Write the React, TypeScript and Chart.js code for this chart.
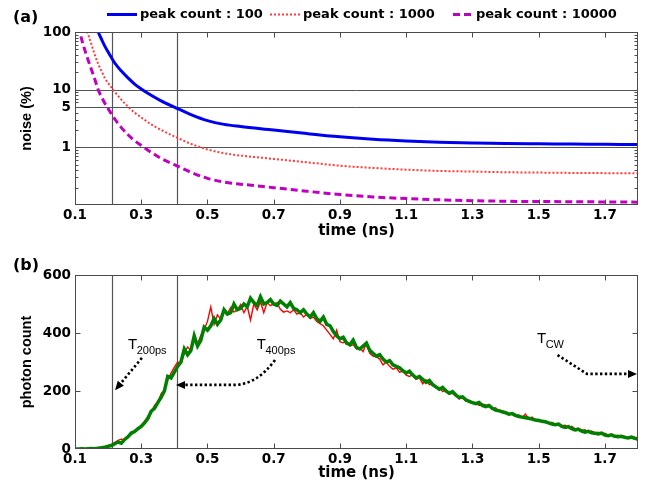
import React, { useEffect, useRef } from 'react';
import { Chart, registerables } from 'chart.js';

Chart.register(...registerables);

// ---------------- Panel (a) data ----------------
const timeA = [0.11, 0.12, 0.13, 0.14, 0.15, 0.16, 0.17, 0.18, 0.19, 0.2, 0.21, 0.22, 0.24, 0.26, 0.28, 0.3, 0.33, 0.36, 0.4, 0.45, 0.5, 0.55, 0.6, 0.7, 0.8, 0.9, 1.0, 1.1, 1.2, 1.3, 1.4, 1.5, 1.6, 1.7, 1.8];
const noise100 = [null, null, null, null, null, 140, 100, 75, 57, 45, 36, 29, 21, 16, 12.5, 10.3, 8, 6.4, 5, 3.7, 2.9, 2.5, 2.3, 2.0, 1.73, 1.52, 1.38, 1.29, 1.23, 1.19, 1.16, 1.15, 1.14, 1.13, 1.12];
const noise1000 = [null, 220, 130, 90, 60, 40, 28, 21, 16, 13, 11, 9.2, 6.7, 5.1, 4.0, 3.3, 2.5, 2.0, 1.55, 1.15, 0.92, 0.79, 0.72, 0.63, 0.55, 0.48, 0.44, 0.41, 0.39, 0.38, 0.37, 0.365, 0.36, 0.357, 0.355];
const noise10000 = [130, 75, 48, 32, 22, 15, 10, 7.5, 5.8, 4.7, 3.8, 3.1, 2.2, 1.65, 1.3, 1.08, 0.82, 0.64, 0.5, 0.37, 0.29, 0.25, 0.23, 0.2, 0.173, 0.152, 0.138, 0.129, 0.123, 0.119, 0.116, 0.115, 0.114, 0.113, 0.112];
const seriesLabelsA = ['peak count : 100', 'peak count : 1000', 'peak count : 10000'];

const timeTicks = [0.1, 0.3, 0.5, 0.7, 0.9, 1.1, 1.3, 1.5, 1.7];
const noiseTicks = [1, 5, 10, 100];
const noiseRefLines = [1, 5, 10];
const noiseMinorTicks = [0.2, 0.3, 0.4, 0.5, 0.6, 0.7, 0.8, 0.9, 2, 3, 4, 6, 7, 8, 9, 20, 30, 40, 50, 60, 70, 80, 90];
const noiseMajorTicks = [1, 10];
const markerTimes = [0.212, 0.407];

// ---------------- Panel (b) data ----------------
const timeStartB = 0.1;
const timeStepB = 0.01;
const countGreen = [
  0, 0, 1, 0, 1, 2, 1, 3, 4, 6,
  9, 12, 18, 24, 20, 33, 42, 55, 60, 70,
  78, 90, 105, 130, 140, 160, 178, 200, 250, 245,
  265, 285, 300, 345, 325, 340, 390, 355, 375, 420,
  410, 425, 450, 430, 445, 480, 465, 470, 500, 480,
  485, 500, 490, 520, 505, 495, 525, 500, 505, 515,
  500, 495, 510, 500, 490, 505, 485, 480, 470, 480,
  465, 455, 470, 450, 440, 455, 430, 425, 405, 390,
  380, 385, 365, 360, 375, 350, 345, 355, 365, 340,
  330, 320, 325, 310, 300, 305, 290, 285, 280, 270,
  262, 268, 255, 245, 250, 240, 230, 236, 222, 214,
  206, 212, 200, 192, 198, 186, 178, 180, 170, 164,
  160, 156, 160, 150, 146, 150, 140, 134, 132, 128,
  125, 120, 122, 116, 112, 110, 108, 106, 103, 100,
  98, 96, 94, 90, 86, 84, 86, 78, 74, 77,
  70, 66, 68, 62, 58, 61, 56, 54, 52, 55,
  48, 46, 49, 44, 42, 44, 40, 38, 41, 37,
  35,
];
const countRed = [
  0, 1, 0, 1, 0, 2, 2, 4, 6, 8,
  12, 16, 22, 30, 34, 32, 42, 50, 62, 68,
  82, 95, 112, 125, 150, 160, 190, 205, 240, 262,
  282, 300, 296, 330, 352, 338, 375, 362, 392, 412,
  440, 490, 430, 462, 448, 478, 466, 488, 472, 480,
  498, 470, 492, 445, 500, 480, 508, 470, 505, 494,
  500, 505, 482, 472, 476, 470, 480, 465, 470, 455,
  465, 450, 455, 440, 432, 425, 410, 395, 380, 410,
  370, 366, 372, 355, 360, 345, 350, 336, 366, 330,
  320, 318, 310, 290, 300, 285, 275, 280, 265, 268,
  255, 250, 258, 240, 245, 225, 238, 222, 225, 210,
  212, 198, 205, 190, 192, 185, 172, 178, 165, 168,
  160, 158, 150, 155, 152, 148, 138, 142, 130, 132,
  128, 120, 122, 112, 118, 108, 120, 105, 110, 100,
  102, 94, 96, 88, 92, 85, 88, 80, 82, 74,
  78, 70, 72, 64, 66, 58, 62, 55, 58, 50,
  54, 46, 50, 44, 47, 40, 44, 38, 40, 34,
  30,
];
const countTicks = [0, 200, 400, 600];
const countInnerTicks = [200, 400];

// annotation texts with anchor points in data coordinates (time, count)
const annotationsB = [
  { main: 'T', sub: '200ps', at: [0.26, 359], path: [[0.302, 314], [0.221, 203]], curved: false },
  { main: 'T', sub: '400ps', at: [0.649, 359], path: [[0.704, 307], [0.58, 221], [0.405, 221]], curved: true },
  { main: 'T', sub: 'CW', at: [1.495, 379], path: [[1.557, 324], [1.646, 259], [1.797, 259]], curved: false },
];

// ---------------- styling ----------------
const TICK_FONT = { family: 'DejaVu Sans', size: 13.5, weight: 'bold' as const };
const XTITLE_FONT = { family: 'DejaVu Sans', size: 15, weight: 'bold' as const };
const YTITLE_FONT = { family: 'Liberation Sans', size: 14.5, weight: 'bold' as const };
const FRAME_COLOR = '#4a4a4a';
const legendLayout = [
  { x0: 107, x1: 137, tx: 140 },
  { x0: 270, x1: 300, tx: 303 },
  { x0: 453, x1: 473, tx: 476 },
];

const toPoints = (xs: number[], ys: (number | null)[]) => xs.map((x, i) => ({ x, y: ys[i] }));
const seriesB = (ys: number[]) => ys.map((y, i) => ({ x: Math.round((timeStartB + i * timeStepB) * 100) / 100, y }));

const framePlugin = {
  id: 'frame',
  beforeDatasetsDraw(chart: any, _args: any, opts: any) {
    const { ctx, chartArea: a, scales } = chart;
    const x = scales.x;
    const y = scales.y;
    ctx.save();
    ctx.strokeStyle = '#555';
    ctx.lineWidth = 1;
    for (const v of opts.hLines || []) {
      const py = Math.round(y.getPixelForValue(v)) + 0.5;
      ctx.beginPath();
      ctx.moveTo(a.left, py);
      ctx.lineTo(a.right, py);
      ctx.stroke();
    }
    ctx.lineWidth = 1.2;
    for (const v of opts.vLines || []) {
      const px = Math.round(x.getPixelForValue(v)) + 0.5;
      ctx.beginPath();
      ctx.moveTo(px, a.top);
      ctx.lineTo(px, a.bottom);
      ctx.stroke();
    }
    ctx.restore();
  },
  afterDatasetsDraw(chart: any, _args: any, opts: any) {
    const { ctx, chartArea: a, scales } = chart;
    const x = scales.x;
    const y = scales.y;
    const L = Math.round(a.left) + 0.5;
    const R = Math.round(a.right) - 0.5;
    const T = Math.round(a.top) + 0.5;
    const B = Math.round(a.bottom) - 0.5;
    ctx.save();
    ctx.strokeStyle = FRAME_COLOR;
    ctx.lineWidth = 1;
    ctx.strokeRect(L, T, R - L, B - T);
    ctx.beginPath();
    for (const v of opts.xTicks || []) {
      const px = Math.round(x.getPixelForValue(v)) + 0.5;
      ctx.moveTo(px, B); ctx.lineTo(px, B - 5);
      ctx.moveTo(px, T); ctx.lineTo(px, T + 5);
    }
    for (const v of opts.yMajor || []) {
      const py = Math.round(y.getPixelForValue(v)) + 0.5;
      ctx.moveTo(L, py); ctx.lineTo(L + 5, py);
      ctx.moveTo(R, py); ctx.lineTo(R - 5, py);
    }
    for (const v of opts.yMinor || []) {
      const py = Math.round(y.getPixelForValue(v)) + 0.5;
      ctx.moveTo(L, py); ctx.lineTo(L + 3, py);
      ctx.moveTo(R, py); ctx.lineTo(R - 3, py);
    }
    ctx.stroke();
    ctx.restore();
  },
};

const panelLabelPlugin = {
  id: 'panelLabel',
  afterDraw(chart: any, _args: any, opts: any) {
    const { ctx } = chart;
    ctx.save();
    ctx.font = 'bold 16px "DejaVu Sans"';
    ctx.fillStyle = '#000';
    ctx.textBaseline = 'middle';
    ctx.textAlign = 'left';
    ctx.fillText(opts.text, opts.x, opts.y);
    ctx.restore();
  },
};

const lineLegendPlugin = {
  id: 'lineLegend',
  afterDraw(chart: any, _args: any, opts: any) {
    if (!opts.layout) return;
    const { ctx } = chart;
    ctx.save();
    chart.data.datasets.forEach((ds: any, i: number) => {
      const l = opts.layout[i];
      ctx.strokeStyle = ds.borderColor;
      ctx.lineWidth = ds.borderWidth;
      ctx.setLineDash(ds.borderDash || []);
      ctx.beginPath();
      ctx.moveTo(l.x0, opts.y);
      ctx.lineTo(l.x1, opts.y);
      ctx.stroke();
      ctx.setLineDash([]);
      ctx.font = 'bold 13px "DejaVu Sans"';
      ctx.fillStyle = '#000';
      ctx.textBaseline = 'middle';
      ctx.fillText(ds.label, l.tx, opts.y);
    });
    ctx.restore();
  },
};

const arrowNotesPlugin = {
  id: 'arrowNotes',
  afterDatasetsDraw(chart: any, _args: any, opts: any) {
    if (!opts.items) return;
    const { ctx, scales } = chart;
    const x = scales.x;
    const y = scales.y;
    ctx.save();
    for (const it of opts.items) {
      const tx = x.getPixelForValue(it.at[0]);
      const ty = y.getPixelForValue(it.at[1]);
      ctx.fillStyle = '#000';
      ctx.textBaseline = 'middle';
      ctx.textAlign = 'left';
      ctx.font = '15px "Liberation Sans"';
      ctx.fillText(it.main, tx, ty);
      const w = ctx.measureText(it.main).width;
      ctx.font = '11px "Liberation Sans"';
      ctx.fillText(it.sub, tx + w - 0.5, ty + 6);

      const pts = it.path.map((p: number[]) => [x.getPixelForValue(p[0]), y.getPixelForValue(p[1])]);
      const n = pts.length;
      const tip = pts[n - 1];
      const prev = pts[n - 2];
      const dx = tip[0] - prev[0];
      const dy = tip[1] - prev[1];
      const len = Math.hypot(dx, dy);
      const ux = dx / len;
      const uy = dy / len;
      const head = 9;
      const base = [tip[0] - ux * head, tip[1] - uy * head];
      ctx.strokeStyle = '#000';
      ctx.lineWidth = 2.6;
      ctx.setLineDash([2.4, 2.4]);
      ctx.beginPath();
      ctx.moveTo(pts[0][0], pts[0][1]);
      if (it.curved && n === 3) {
        // bend from the start point into the horizontal run
        const c = pts[1];
        const cx = c[0] + (pts[0][0] - c[0]) * 0.55;
        ctx.quadraticCurveTo(cx, c[1], c[0], c[1]);
      } else {
        for (let i = 1; i < n - 1; i++) ctx.lineTo(pts[i][0], pts[i][1]);
      }
      ctx.lineTo(base[0], base[1]);
      ctx.stroke();
      ctx.setLineDash([]);
      ctx.beginPath();
      ctx.moveTo(tip[0], tip[1]);
      ctx.lineTo(base[0] - uy * 4, base[1] + ux * 4);
      ctx.lineTo(base[0] + uy * 4, base[1] - ux * 4);
      ctx.closePath();
      ctx.fill();
    }
    ctx.restore();
  },
};

function baseXScale(heightPx: number) {
  return {
    type: 'linear' as const,
    min: 0.1,
    max: 1.8,
    afterBuildTicks: (s: any) => { s.ticks = timeTicks.map((v) => ({ value: v })); },
    afterFit: (s: any) => { s.height = heightPx; },
    grid: { display: false, drawTicks: false },
    border: { display: false },
    ticks: { padding: 2, font: TICK_FONT, color: '#000', autoSkip: false, maxRotation: 0, callback: (v: any) => Number(v).toFixed(1) },
    title: { display: true, text: 'time (ns)', font: XTITLE_FONT, color: '#000', padding: 0 },
  };
}

function PanelA() {
  const ref = useRef<HTMLCanvasElement>(null);
  useEffect(() => {
    const chart = new Chart(ref.current as HTMLCanvasElement, {
      type: 'line',
      data: {
        datasets: [
          { label: seriesLabelsA[0], data: toPoints(timeA, noise100) as any, borderColor: '#0000f0', borderWidth: 3, pointRadius: 0, cubicInterpolationMode: 'monotone', fill: false },
          { label: seriesLabelsA[1], data: toPoints(timeA, noise1000) as any, borderColor: '#ff3a3a', borderWidth: 2, borderDash: [2, 2], pointRadius: 0, cubicInterpolationMode: 'monotone', fill: false },
          { label: seriesLabelsA[2], data: toPoints(timeA, noise10000) as any, borderColor: '#c000c0', borderWidth: 3, borderDash: [7, 4], pointRadius: 0, cubicInterpolationMode: 'monotone', fill: false },
        ],
      },
      options: {
        responsive: false,
        animation: false,
        layout: { padding: { left: 0, right: 17, top: 32, bottom: 0 } },
        plugins: {
          legend: { display: false },
          tooltip: { enabled: false },
          frame: { hLines: noiseRefLines, vLines: markerTimes, xTicks: timeTicks, yMajor: noiseMajorTicks, yMinor: noiseMinorTicks },
          panelLabel: { text: '(a)', x: 13, y: 18 },
          lineLegend: { layout: legendLayout, y: 14.5 },
        } as any,
        scales: {
          x: baseXScale(35) as any,
          y: {
            type: 'logarithmic',
            min: 0.1,
            max: 100,
            afterBuildTicks: (s: any) => { s.ticks = noiseTicks.map((v) => ({ value: v })); },
            afterFit: (s: any) => { s.width = 75; },
            grid: { display: false, drawTicks: false },
            border: { display: false },
            ticks: { padding: 4, font: TICK_FONT, color: '#000', autoSkip: false, callback: (v: any) => String(v) },
            title: { display: true, text: 'noise (%)', font: YTITLE_FONT, color: '#000', padding: { top: 18, bottom: 0 } },
          } as any,
        },
      },
      plugins: [framePlugin, panelLabelPlugin, lineLegendPlugin],
    });
    return () => chart.destroy();
  }, []);
  return <canvas ref={ref} width={655} height={240} style={{ display: 'block' }} />;
}

function PanelB() {
  const ref = useRef<HTMLCanvasElement>(null);
  useEffect(() => {
    const chart = new Chart(ref.current as HTMLCanvasElement, {
      type: 'line',
      data: {
        datasets: [
          { label: 'green', data: seriesB(countGreen) as any, borderColor: '#008000', borderWidth: 3.5, pointRadius: 0, tension: 0, fill: false },
          { label: 'red', data: seriesB(countRed) as any, borderColor: '#ff0000', borderWidth: 1.4, pointRadius: 0, tension: 0, fill: false },
        ],
      },
      options: {
        responsive: false,
        animation: false,
        layout: { padding: { left: 0, right: 17, top: 35, bottom: 0 } },
        plugins: {
          legend: { display: false },
          tooltip: { enabled: false },
          frame: { vLines: markerTimes, xTicks: timeTicks, yMajor: countInnerTicks },
          panelLabel: { text: '(b)', x: 13, y: 26 },
          arrowNotes: { items: annotationsB },
        } as any,
        scales: {
          x: baseXScale(33) as any,
          y: {
            type: 'linear',
            min: 0,
            max: 600,
            afterBuildTicks: (s: any) => { s.ticks = countTicks.map((v) => ({ value: v })); },
            afterFit: (s: any) => { s.width = 75; },
            grid: { display: false, drawTicks: false },
            border: { display: false },
            ticks: { padding: 4, font: TICK_FONT, color: '#000', autoSkip: false, callback: (v: any) => String(v) },
            title: { display: true, text: 'photon count', font: YTITLE_FONT, color: '#000', padding: { top: 18, bottom: 0 } },
          } as any,
        },
      },
      plugins: [framePlugin, panelLabelPlugin, arrowNotesPlugin],
    });
    return () => chart.destroy();
  }, []);
  return <canvas ref={ref} width={655} height={242} style={{ display: 'block' }} />;
}

export default function App() {
  return (
    <div style={{ position: 'absolute', left: 0, top: 0, width: 655, height: 482, background: '#fff' }}>
      <PanelA />
      <PanelB />
    </div>
  );
}
